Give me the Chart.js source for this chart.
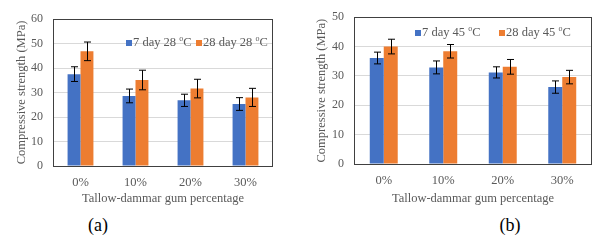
<!DOCTYPE html>
<html>
<head>
<meta charset="utf-8">
<script src="https://cdn.jsdelivr.net/npm/chart.js@4"></script>
<style>
body { margin: 0; background: #fff; width: 603px; height: 241px; position: relative; overflow: hidden; font-family: 'Liberation Serif', serif; }
canvas { position: absolute; top: 0; }
#chartA { left: 0; }
#chartB { left: 300px; }
.tag { position: absolute; font-size: 18px; color: #000; transform: translate(-50%, -50%); }
</style>
</head>
<body>
<canvas id="chartA" width="300" height="210"></canvas>
<canvas id="chartB" width="303" height="210"></canvas>
<div class="tag" style="left:98px; top:225px;">(a)</div>
<div class="tag" style="left:510px; top:225px;">(b)</div>
<script>
// Data
const categories = ['0%', '10%', '20%', '30%'];
const ages = ['7 day', '28 day'];

// (a) cured at 28 oC
const a7 = [37.5, 28.6, 26.8, 25.3];
const a7Err = [3.0, 2.8, 2.5, 2.6];
const a28 = [46.8, 35.1, 31.6, 28.0];
const a28Err = [3.8, 4.0, 3.8, 3.7];

// (b) cured at 45 oC
const b7 = [36.1, 32.9, 31.2, 26.2];
const b7Err = [2.0, 2.2, 1.9, 2.1];
const b28 = [40.0, 38.4, 33.1, 29.6];
const b28Err = [2.5, 2.3, 2.5, 2.3];

const BLUE = '#4472C4';
const ORANGE = '#ED7D31';
const TEXT = '#595959';
const FONT = "'Liberation Serif', serif";

// error bars drawn from each dataset's err array
const errorBars = {
    id: 'errorBars',
    afterDatasetsDraw(chart) {
        const ctx = chart.ctx;
        const y = chart.scales.y;
        ctx.save();
        ctx.strokeStyle = '#000';
        ctx.lineWidth = 1;
        chart.data.datasets.forEach((ds, i) => {
            const meta = chart.getDatasetMeta(i);
            meta.data.forEach((bar, j) => {
                const v = ds.data[j], e = ds.err[j];
                const x = Math.round(bar.x) + 0.5;
                const top = y.getPixelForValue(v + e);
                const bot = y.getPixelForValue(v - e);
                ctx.beginPath();
                ctx.moveTo(x, top); ctx.lineTo(x, bot);
                ctx.moveTo(x - 3.5, top); ctx.lineTo(x + 3.5, top);
                ctx.moveTo(x - 3.5, bot); ctx.lineTo(x + 3.5, bot);
                ctx.stroke();
            });
        });
        ctx.restore();
    }
};

// box round the plot area
const plotBox = {
    id: 'plotBox',
    afterDraw(chart) {
        const a = chart.chartArea;
        const ctx = chart.ctx;
        ctx.save();
        ctx.strokeStyle = '#404040';
        ctx.lineWidth = 1;
        ctx.strokeRect(Math.round(a.left) + 0.5, Math.round(a.top) + 0.5,
            Math.round(a.right - a.left) - 1, Math.round(a.bottom - a.top));
        ctx.restore();
    }
};

// legend inside the plot, with superscript o
const insideLegend = {
    id: 'insideLegend',
    afterDraw(chart, args, opts) {
        const ctx = chart.ctx;
        ctx.save();
        ctx.textBaseline = 'middle';
        chart.data.datasets.forEach((ds, i) => {
            let x = opts.x[i];
            const y = opts.y;
            ctx.fillStyle = ds.backgroundColor;
            ctx.fillRect(x, y - 3, 6, 6);
            x += 7;
            ctx.fillStyle = TEXT;
            ctx.font = '12.5px ' + FONT;
            const txt = ds.label + ' ' + opts.temp + ' ';
            ctx.fillText(txt, x, y);
            x += ctx.measureText(txt).width;
            ctx.font = '8px ' + FONT;
            ctx.fillText('o', x, y - 4);
            x += ctx.measureText('o').width;
            ctx.font = '12.5px ' + FONT;
            ctx.fillText('C', x, y);
        });
        ctx.restore();
    }
};

function makeChart(id, s7, e7, s28, e28, cfg) {
    return new Chart(document.getElementById(id), {
        type: 'bar',
        data: {
            labels: categories,
            datasets: [
                { label: ages[0], data: s7, err: e7, backgroundColor: BLUE },
                { label: ages[1], data: s28, err: e28, backgroundColor: ORANGE }
            ]
        },
        options: {
            responsive: false,
            animation: false,
            datasets: { bar: { barPercentage: 1, categoryPercentage: 0.47 } },
            layout: { padding: { left: 0, right: cfg.right, top: cfg.top, bottom: 0 } },
            plugins: {
                legend: { display: false },
                tooltip: { enabled: false },
                insideLegend: { x: cfg.legendX, y: cfg.legendY, temp: cfg.temp }
            },
            scales: {
                x: {
                    grid: { display: false, drawTicks: false },
                    border: { display: false },
                    ticks: { color: TEXT, font: { family: FONT, size: 12.5 }, padding: 9 },
                    title: { display: true, text: 'Tallow-dammar gum percentage', color: TEXT,
                        font: { family: FONT, size: 12.5 }, padding: { top: 0, bottom: 4 } },
                    afterFit: (s) => { s.height = cfg.xHeight; }
                },
                y: {
                    min: 0, max: cfg.max,
                    grid: { color: '#d9d9d9', drawTicks: false },
                    border: { display: false },
                    ticks: { stepSize: 10, color: TEXT, font: { family: FONT, size: 12 }, padding: 10 },
                    title: { display: true, text: 'Compressive strength (MPa)', color: TEXT,
                        font: { family: FONT, size: 12.5 }, padding: { top: 14, bottom: 0 } },
                    afterFit: (s) => { s.width = cfg.yWidth; }
                }
            }
        },
        plugins: [errorBars, plotBox, insideLegend]
    });
}

makeChart('chartA', a7, a7Err, a28, a28Err, {
    max: 60, top: 19, right: 27, yWidth: 53, xHeight: 44,
    legendX: [126, 196], legendY: 43, temp: '28'
});
makeChart('chartB', b7, b7Err, b28, b28Err, {
    max: 50, top: 15, right: 11, yWidth: 54, xHeight: 46,
    legendX: [115, 199], legendY: 33, temp: '45'
});
</script>
</body>
</html>
